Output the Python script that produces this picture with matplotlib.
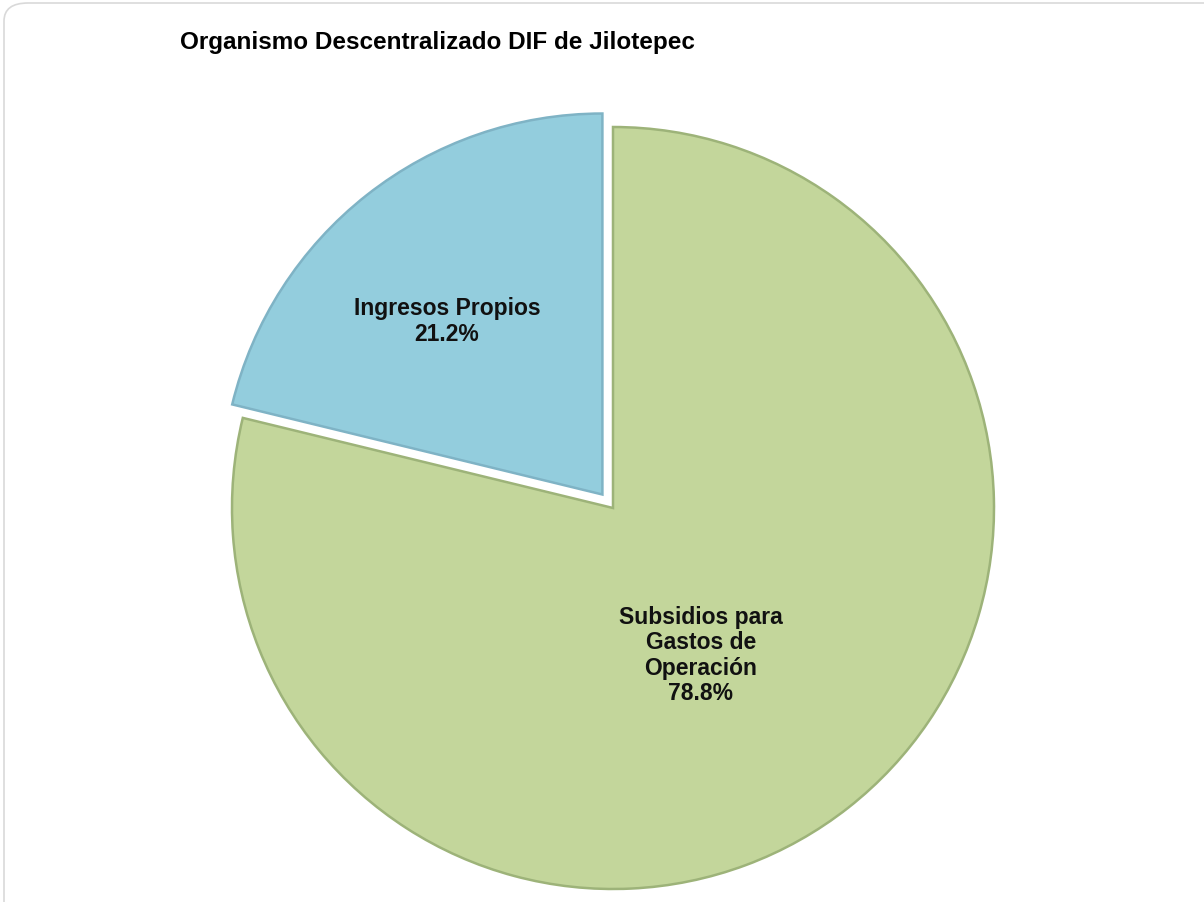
import numpy as np
import matplotlib
matplotlib.use("Agg")
import matplotlib.pyplot as plt
from matplotlib.patches import FancyBboxPatch

plt.rcParams['font.family'] = ['Liberation Sans', 'DejaVu Sans']

title = "Organismo Descentralizado DIF de Jilotepec"
categories = ["Ingresos Propios", "Subsidios para\nGastos de\nOperación"]
values = [21.2, 78.8]
colors = ["#93CDDD", "#C3D69B"]
edge_colors = ["#7FB3C5", "#9DB379"]
explode = [0.045, 0.0]

W, H = 1204, 903
fig = plt.figure(figsize=(W / 100, H / 100), dpi=100)
fig.patch.set_facecolor("white")

# chart-area border
border = FancyBboxPatch((4 / W, -0.05), 1.2, 1.05 - 4 / H,
                        boxstyle="round,pad=0,rounding_size=0.02",
                        transform=fig.transFigure, facecolor="none",
                        edgecolor="#D9D9D9", linewidth=1.2, zorder=0)
fig.patches.append(border)

cx, cy, R = 613, 509, 381
ax = fig.add_axes([(cx - R) / W, (H - cy - R) / H, 2 * R / W, 2 * R / H])
wedges, _ = ax.pie(values, colors=colors, startangle=90, counterclock=True,
                   explode=explode, radius=1.0,
                   wedgeprops=dict(linewidth=1.8))
for w, ec in zip(wedges, edge_colors):
    w.set_edgecolor(ec)
ax.set_xlim(-1, 1)
ax.set_ylim(-1, 1)
ax.set_aspect('auto')
ax.axis('off')

label_r = [0.62, 0.44]
angle_shift = [3.0, -6.5]
for w, cat, v, r, da in zip(wedges, categories, values, label_r, angle_shift):
    mid = np.deg2rad((w.theta1 + w.theta2) / 2 + da)
    x0, y0 = w.center
    ax.text(x0 + r * np.cos(mid), y0 + r * np.sin(mid) - 0.01,
            f"{cat}\n{v:.1f}%", ha="center", va="center",
            fontsize=16.5, fontweight="bold", color="#111111",
            linespacing=1.12)

fig.text(437 / W, 1 - 43 / H, title, ha="center", va="center",
         fontsize=17.5, fontweight="bold", color="black")

fig.savefig("out.png", dpi=100, facecolor="white")
